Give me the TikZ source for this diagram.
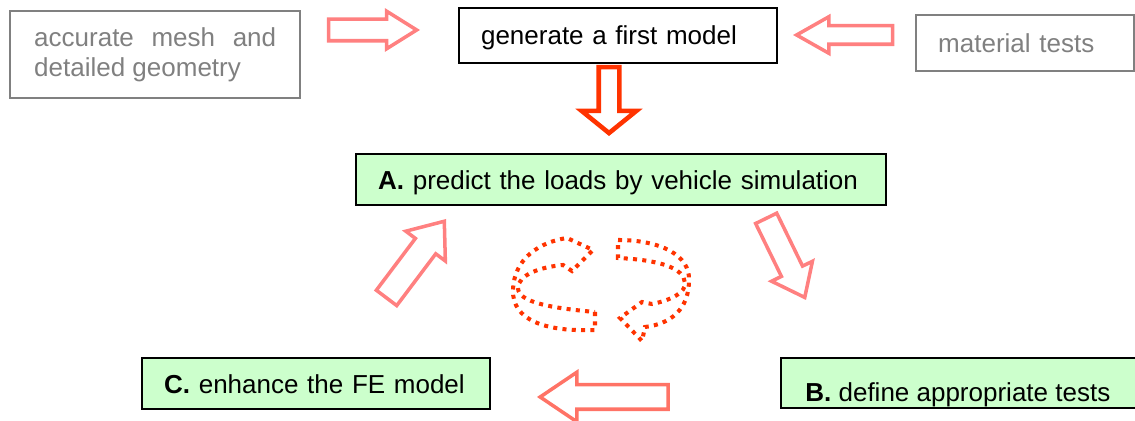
\documentclass[tikz,border=0pt]{standalone}
\usepackage{fontspec}
\setmainfont{Liberation Sans}
\usetikzlibrary{shapes.arrows}
\definecolor{greenfill}{HTML}{CCFFCC}
\definecolor{pinkline}{HTML}{FF8080}
\definecolor{salmonline}{HTML}{FF7366}
\definecolor{redline}{HTML}{FF3300}
\definecolor{grayline}{HTML}{808080}

\begin{document}
\begin{tikzpicture}[
      x=0.02cm, y=-0.02cm, % one unit = one pixel, y runs downwards
      every node/.style={font=\fontsize{14.8pt}{17pt}\selectfont, inner sep=0pt},
      box/.style={draw, line width=1.2pt, anchor=north west, inner xsep=0.44cm, align=left},
      onerow/.style={text height=10.7pt, text depth=0pt},
      graybox/.style={box, draw=grayline, text=grayline, line width=1.4pt},
      greenbox/.style={box, fill=greenfill, line width=1.3pt},
      % length, shaft, head extend, tip angle
      barrow/.style n args={4}{single arrow, draw, anchor=tip, line width=2pt,
        minimum height=#1, text height=#2, text depth=0pt,
        single arrow head extend=#3, single arrow tip angle=#4},
      loop/.style={draw=redline, line width=2.3pt, dash pattern=on 2.3pt off 3pt}
    ]
\useasboundingbox (0,0) rectangle (1135,421);

% input boxes
\node[graybox, inner xsep=0.48cm, minimum height=1.74cm, text width=4.84cm, align=justify] (mesh) at (9,10)
  {accurate mesh and\linebreak detailed geometry};
\node[box, onerow, minimum height=1.1cm, text width=5.48cm] (first) at (458,7) {generate a first model};
\node[graybox, onerow, minimum height=1.12cm, text width=3.48cm] (material) at (915,14) {material tests};

% cycle boxes
\node[greenbox, onerow, minimum height=1.02cm, text width=9.72cm] (predict) at (355,153)
  {\textbf{A.} predict the loads by vehicle simulation};
\node[greenbox, onerow, minimum height=1.02cm, text width=6.08cm] (enhance) at (141,357)
  {\textbf{C.} enhance the FE model};
\node[greenbox, minimum height=1cm, minimum width=7.6cm] (define) at (780,357) {};
\begin{scope}
  \clip (define.south west) rectangle (define.north east); % text sits low and is cut by the box
  \node[anchor=base west] (definetext) at (805,402) {\textbf{B.} define appropriate tests};
\end{scope}

% block arrows
\node[barrow={1.76cm}{0.36cm}{0.16cm}{64}, draw=pinkline] (meshto) at (420,30) {};
\node[barrow={1.92cm}{0.3cm}{0.18cm}{59}, draw=pinkline, rotate=180] (materialto) at (793,35) {};
\node[barrow={1.32cm}{0.32cm}{0.34cm}{102}, draw=redline, line width=2.6pt, rotate=-90] (firstdown) at (609,136) {};
\node[barrow={1.92cm}{0.44cm}{0.24cm}{77}, draw=pinkline, rotate=53] (backup) at (446,219) {};
\node[barrow={1.76cm}{0.4cm}{0.22cm}{76}, draw=pinkline, rotate=-64] (testsdown) at (806,300) {};
\node[barrow={2.56cm}{0.42cm}{0.25cm}{68}, draw=salmonline, rotate=180] (backleft) at (537,397) {};

% dotted turning arrows
\draw[loop] (595,312) -- (595,330) .. controls (545,332) and (512,320) .. (513,290)
  .. controls (514,258) and (540,242) .. (567,238) -- (593,250) -- (572,271) -- (563,265)
  .. controls (540,267) and (518,275) .. (518,288) .. controls (518,302) and (550,308) .. (595,312) -- cycle;
\draw[loop] (618,240) .. controls (660,240) and (690,255) .. (689,280)
  .. controls (689,310) and (670,324) .. (645,327) -- (642,341) -- (620,318) -- (642,302) -- (652,304)
  .. controls (672,300) and (686,292) .. (685,283) .. controls (684,268) and (660,260) .. (618,258) -- cycle;
\end{tikzpicture}
\end{document}
